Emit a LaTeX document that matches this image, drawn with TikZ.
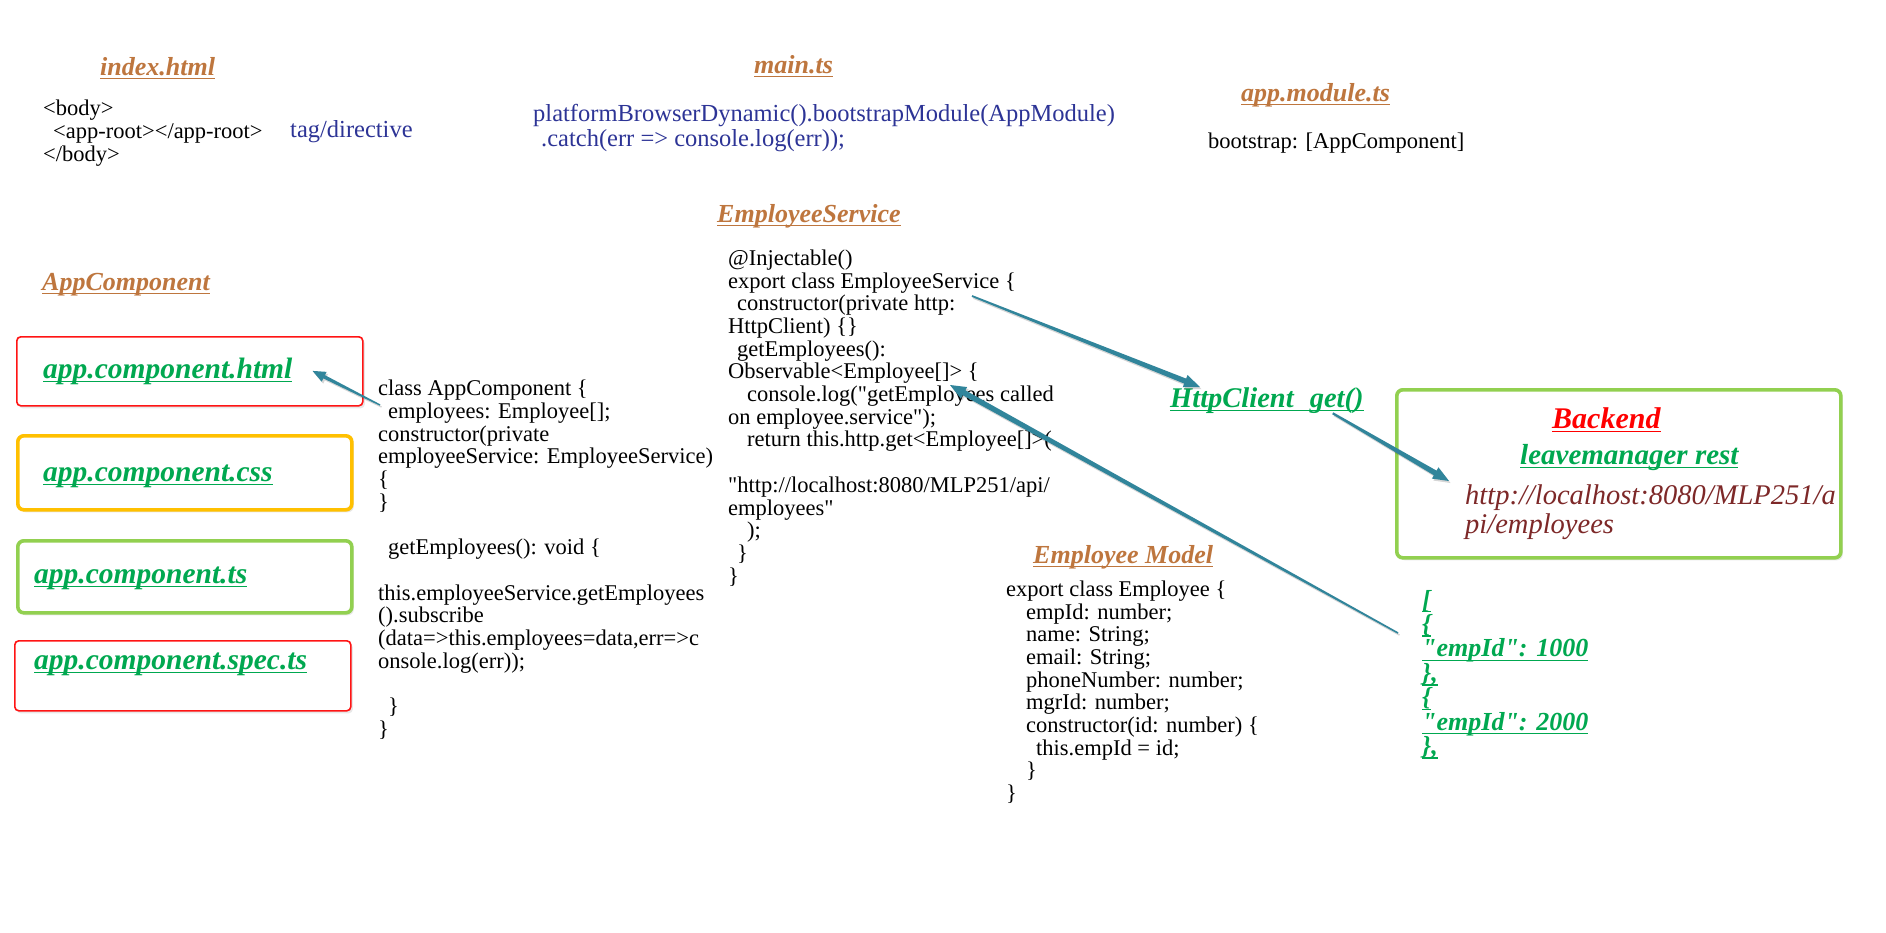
\documentclass[tikz,border=0pt]{standalone}
\usepackage{fontspec}
\setmainfont{Liberation Serif}[Ligatures=TeXOff]
\usetikzlibrary{calc,shadows}

\definecolor{titlebrown}{RGB}{190,118,62}
\definecolor{linkgreen}{RGB}{0,168,80}
\definecolor{codeblue}{RGB}{45,52,150}
\definecolor{urlred}{RGB}{125,40,40}
\definecolor{backendred}{RGB}{255,0,0}
\definecolor{arrowteal}{RGB}{49,133,155}
\definecolor{boxred}{RGB}{255,20,20}
\definecolor{boxorange}{RGB}{255,192,0}
\definecolor{boxgreen}{RGB}{146,208,80}

% underlined text: a rule just below the baseline, in the current colour
\newcommand\undl[1]{\leavevmode\setbox0\hbox{#1}\rlap{\rule[-4.2pt]{\wd0}{1.3pt}}\box0}

% tapered arrow from #1 to #2: half widths at start (#3) and at the head (#4),
% half width of the head (#5), length of the head (#6); drawn with a soft shadow
\newcommand\taper[6]{%
  \coordinate (tp-h) at ($(#2)!#6!(#1)$);
  \fill[black, opacity=0.16, transform canvas={xshift=1.5pt, yshift=-2pt}]
    ($(#1)!#3!90:(#2)$) -- ($(tp-h)!#4!-90:(#1)$) -- ($(tp-h)!#5!-90:(#1)$) -- (#2)
    -- ($(tp-h)!#5!90:(#1)$) -- ($(tp-h)!#4!90:(#1)$) -- ($(#1)!#3!-90:(#2)$) -- cycle;
  \fill[arrowteal]
    ($(#1)!#3!90:(#2)$) -- ($(tp-h)!#4!-90:(#1)$) -- ($(tp-h)!#5!-90:(#1)$) -- (#2)
    -- ($(tp-h)!#5!90:(#1)$) -- ($(tp-h)!#4!90:(#1)$) -- ($(#1)!#3!-90:(#2)$) -- cycle;
}

\tikzset{
  every node/.style={inner sep=0pt, anchor=base west},
  % multi-line texts hang from the top of a strut on their first line
  block/.style={anchor=north west, align=left, execute at begin node=\strut},
  codetext/.style={block, font=\fontsize{22.5}{22.7}\selectfont},
  plaintext/.style={font=\fontsize{22.5}{22.7}\selectfont},
  filetitle/.style={text=titlebrown, font=\fontsize{26}{30}\selectfont\bfseries\itshape},
  filelink/.style={text=linkgreen, font=\fontsize{29.5}{32}\selectfont\bfseries\itshape},
  bluetext/.style={text=codeblue, font=\fontsize{24.5}{25}\selectfont},
  filebox/.style={draw, fill=white, anchor=north west,
    drop shadow={shadow xshift=2pt, shadow yshift=-2.5pt, opacity=0.18}},
  thinbox/.style={filebox, line width=1.6pt, rounded corners=4pt},
  thickbox/.style={filebox, line width=3.6pt, rounded corners=6pt},
}

\begin{document}
\begin{tikzpicture}[x=1pt, y=-1pt]
\useasboundingbox (0,0) rectangle (1886,932);
\fill[white] (0,0) rectangle (1886,932);

% ---------- index.html ----------
\node[filetitle] (indextitle) at (100,75) {\undl{index.html}};
\node[codetext] (indexbody) at (43,99.8) {<body>\\ \hspace*{10pt}<app-root></app-root>\\</body>};
\node[bluetext] (tagdir) at (290,137) {tag/directive};

% ---------- main.ts ----------
\node[filetitle] (maintitle) at (754,73) {\undl{main.ts}};
\node[bluetext, block] (mainbody) at (533,104)
  {platformBrowserDynamic().bootstrapModule(AppModule)\\ \hspace*{8pt}.catch(err => console.log(err));};

% ---------- app.module.ts ----------
\node[filetitle] (moduletitle) at (1241,101) {\undl{app.module.ts}};
\node[plaintext] (modulebody) at (1208,148) {bootstrap: [AppComponent]};

% ---------- AppComponent files ----------
\node[filetitle] (comptitle) at (42,290) {\undl{AppComponent}};

\node[thinbox, draw=boxred, minimum width=346pt, minimum height=69pt] (htmlbox) at (16,336) {};
\node[thickbox, draw=boxorange, minimum width=334pt, minimum height=74pt] (cssbox) at (16,434) {};
\node[thickbox, draw=boxgreen, minimum width=334pt, minimum height=72pt] (tsbox) at (16,539) {};
\node[thinbox, draw=boxred, minimum width=336pt, minimum height=70pt] (specbox) at (14,640) {};

\node[filelink] (htmlfile) at (43,378) {\undl{app.component.html}};
\node[filelink] (cssfile) at (43,481) {\undl{app.component.css}};
\node[filelink] (tsfile) at (34,583) {\undl{app.component.ts}};
\node[filelink] (specfile) at (34,669) {\undl{app.component.spec.ts}};

\node[codetext] (compcode) at (378,380) {%
class AppComponent \{\\
\hspace*{10pt}employees: Employee[];\\
constructor(private\\
employeeService: EmployeeService)\\
\{\\
\}\\
\mbox{}\\
\hspace*{10pt}getEmployees(): void \{\\
\mbox{}\\
this.employeeService.getEmployees\\
().subscribe\\
(data=>this.employees=data,err=>c\\
onsole.log(err));\\
\mbox{}\\
\hspace*{10pt}\}\\
\}};

% ---------- EmployeeService ----------
\node[filetitle] (svctitle) at (717,222) {\undl{EmployeeService}};
\node[codetext] (svccode) at (728,249.5) {%
@Injectable()\\
export class EmployeeService \{\\
\hspace*{9pt}constructor(private http:\\
HttpClient) \{\}\\
\hspace*{9pt}getEmployees():\\
Observable<Employee[]> \{\\
\hspace*{19pt}console.log("getEmployees called\\
on employee.service");\\
\hspace*{19pt}return this.http.get<Employee[]>(\\
\mbox{}\\
"http://localhost:8080/MLP251/api/\\
employees"\\
\hspace*{19pt});\\
\hspace*{9pt}\}\\
\}};

% ---------- Employee model ----------
\node[filetitle] (modeltitle) at (1033,563) {\undl{Employee Model}};
\node[codetext] (modelcode) at (1006,580.5) {%
export class Employee \{\\
\hspace*{20pt}empId: number;\\
\hspace*{20pt}name: String;\\
\hspace*{20pt}email: String;\\
\hspace*{20pt}phoneNumber: number;\\
\hspace*{20pt}mgrId: number;\\
\hspace*{20pt}constructor(id: number) \{\\
\hspace*{30pt}this.empId = id;\\
\hspace*{20pt}\}\\
\}};

% ---------- HttpClient and backend ----------
\node[filelink, font=\fontsize{28.5}{32}\selectfont\bfseries\itshape] (httpclient) at (1170,407)
  {\undl{HttpClient\hspace{16pt}get()}};

\node[thickbox, draw=boxgreen, minimum width=444pt, minimum height=168pt] (backendbox) at (1395,388) {};
\node[text=backendred, font=\fontsize{30}{34}\selectfont\bfseries\itshape] (backend) at (1552,428) {\undl{Backend}};
\node[filelink, font=\fontsize{29}{32}\selectfont\bfseries\itshape] (rest) at (1520,464) {\undl{leavemanager rest}};
\node[block, text=urlred, font=\fontsize{28.5}{29}\selectfont\itshape] (resturl) at (1465,484.7)
  {http://localhost:8080/MLP251/a\\pi/employees};

% ---------- JSON response ----------
\node[block, text=linkgreen, font=\fontsize{26}{24.4}\selectfont\bfseries\itshape] (json) at (1422,589.9) {%
\undl{[}\\
\undl{\{}\\
\undl{"empId": 1000}\\
\undl{\},}\\
\undl{\{}\\
\undl{"empId": 2000}\\
\undl{\},}};

% ---------- connectors ----------
\coordinate (compsrc) at (380,405);
\coordinate (htmlin) at ([xshift=20pt]htmlfile.east);
\coordinate (svchttp) at (972,296);
\coordinate (httpin) at ([xshift=30pt]httpclient.north west);
\coordinate (httpout) at ([xshift=-31pt]httpclient.south east);
\coordinate (restin) at (1449,481);
\coordinate (jsonout) at (1398,633);
\coordinate (svcobs) at (950,385);

\taper{compsrc}{htmlin}{0.7pt}{1.8pt}{5.5pt}{13pt}
\taper{svchttp}{httpin}{0.9pt}{2.7pt}{6.5pt}{16pt}
\taper{httpout}{restin}{1.1pt}{2.7pt}{6.5pt}{16pt}
\taper{jsonout}{svcobs}{0.8pt}{2.8pt}{6.5pt}{16pt}
\end{tikzpicture}
\end{document}
